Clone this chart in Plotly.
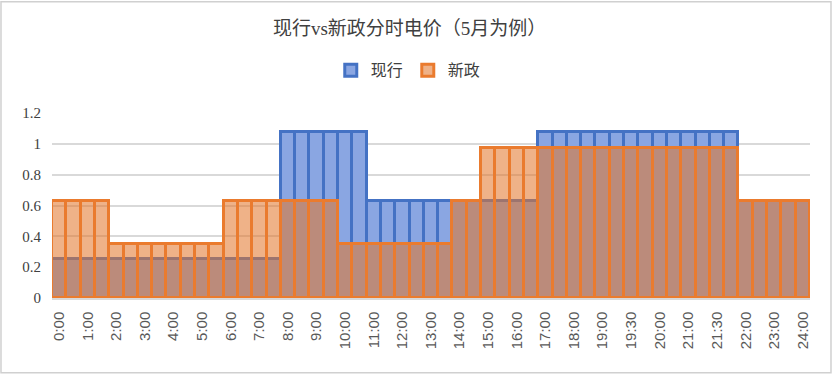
import plotly.graph_objects as go

# Categories (half-hour slots); every other label is shown on the axis
categories = [
    "0:00", "0:30", "1:00", "1:30", "2:00", "2:30", "3:00", "3:30",
    "4:00", "4:30", "5:00", "5:30", "6:00", "6:30", "7:00", "7:30",
    "8:00", "8:30", "9:00", "9:30", "10:00", "10:30", "11:00", "11:30",
    "12:00", "12:30", "13:00", "13:30", "14:00", "14:30", "15:00", "15:30",
    "16:00", "16:30", "17:00", "17:30", "18:00", "18:30", "19:00", "19:15",
    "19:30", "19:45", "20:00", "20:30", "21:00", "21:15", "21:30", "21:45",
    "22:00", "22:30", "23:00", "23:30", "24:00",
]
tick_labels = categories[::2]

current_price = (  # 现行
    [0.25] * 16 + [1.08] * 6 + [0.63] * 6 + [0.63] * 2 + [0.63] * 4
    + [1.08] * 2 + [1.08] * 12 + [0.63] * 5
)
new_price = (  # 新政
    [0.63] * 4 + [0.35] * 8 + [0.63] * 4 + [0.63] * 4 + [0.35] * 8
    + [0.63] * 2 + [0.97] * 18 + [0.63] * 5
)

fig = go.Figure()
fig.add_trace(go.Bar(
    x=categories, y=current_price, name="现行",
    marker=dict(color="rgb(138,166,226)", line=dict(color="#4472c4", width=3)),
))
fig.add_trace(go.Bar(
    x=categories, y=new_price, name="新政",
    marker=dict(color="rgba(226,118,42,0.56)", line=dict(color="#ea7b2e", width=3)),
))

cjk = "Noto Sans CJK SC"
fig.update_layout(
    width=836, height=376,
    barmode="overlay", bargap=0,
    paper_bgcolor="white", plot_bgcolor="white",
    margin=dict(l=52, r=26, t=113, b=78),
    title=dict(
        text="现行vs新政分时电价（5月为例）",
        x=0.49, xref="container", xanchor="center",
        y=1 - 28 / 376, yref="container", yanchor="middle",
        font=dict(family="Liberation Serif, " + cjk, size=19, color="#404040"),
    ),
    legend=dict(
        orientation="h", x=0.47, xanchor="center", y=1.231, yanchor="middle",
        font=dict(family=cjk, size=16, color="#404040"),
        itemwidth=30, traceorder="normal",
    ),
    showlegend=True,
    xaxis=dict(
        type="category", categoryorder="array", categoryarray=categories,
        tickmode="array", tickvals=tick_labels, ticktext=tick_labels,
        tickangle=-90, showgrid=False, showline=True, linecolor="#d9d9d9",
        linewidth=1.5, ticks="",
        tickfont=dict(family="Liberation Sans", size=15, color="#595959"),
        ticklabelstandoff=6,
    ),
    yaxis=dict(
        range=[0, 1.2], dtick=0.2, tickformat="~g",
        showgrid=True, gridcolor="#d9d9d9", gridwidth=1.5,
        zeroline=False, showline=False, ticks="",
        tickfont=dict(family="Liberation Serif", size=15, color="#404040"),
        ticklabelstandoff=10,
    ),
    shapes=[dict(
        type="rect", xref="paper", yref="paper",
        x0=-0.0673, x1=1.0277, y0=-0.404, y1=1.601,
        line=dict(color="#d0d0d0", width=1.5), layer="below",
    )],
)

fig.write_html(
    "out.html",
    config={"displayModeBar": False},
    post_script="document.body.style.margin='0';document.body.style.padding='0';",
)
